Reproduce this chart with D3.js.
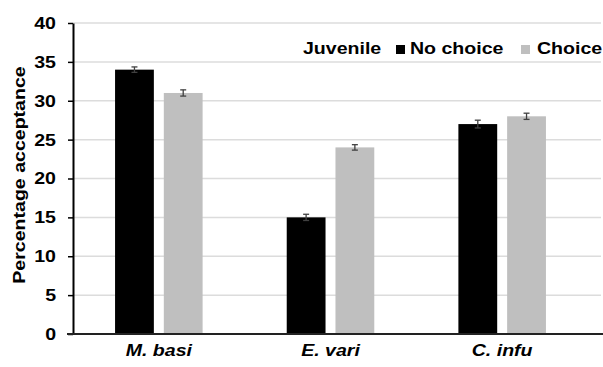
<!DOCTYPE html>
<html>
<head>
<meta charset="utf-8">
<script src="https://cdn.jsdelivr.net/npm/d3@7"></script>
<style>
  html, body { margin: 0; padding: 0; background: #fff; }
  svg text { font-family: "Liberation Sans", Arial, sans-serif; font-weight: bold; fill: #000; }
</style>
</head>
<body>
<svg id="chart" width="603" height="367"></svg>
<script>
// Species groups and the two treatments
const species = ["M. basi", "E. vari", "C. infu"];
const treatments = ["No choice", "Choice"];
const noChoice = [34, 15, 27];
const choice = [31, 24, 28];
const noChoiceErr = [0.35, 0.4, 0.5];
const choiceErr = [0.4, 0.35, 0.4];
const yTicks = [0, 5, 10, 15, 20, 25, 30, 35, 40];
const legendTitle = "Juvenile";
const yTitle = "Percentage acceptance";

const colors = { "No choice": "#000000", "Choice": "#bfbfbf" };
const FONT = 17;
const WIDE = 1.15; // the label face is set wide

const svg = d3.select("#chart");
const margin = { left: 73, right: 15, top: 23, bottom: 33 };
const W = 603, H = 367;

const y = d3.scaleLinear().domain([0, 40]).range([H - margin.bottom, margin.top]);
const x0 = d3.scaleBand().domain(species).range([margin.left, W - margin.right]).padding(0);
const bw = x0.bandwidth();
const x1 = d3.scaleBand().domain(treatments).range([bw * 0.245, bw * 0.755]).paddingInner(0.204);

function widen(sel) {
  sel.each(function () {
    const len = this.getComputedTextLength();
    d3.select(this).attr("textLength", len * WIDE).attr("lengthAdjust", "spacingAndGlyphs");
  });
}

// gridlines
svg.append("g")
  .selectAll("line")
  .data(yTicks.filter(d => d > 0))
  .join("line")
  .attr("x1", margin.left).attr("x2", 601)
  .attr("y1", d => y(d)).attr("y2", d => y(d))
  .attr("stroke", "#dcdcdc").attr("stroke-width", 1.5);

// rows of data per species
const rows = species.map((s, i) => ({
  species: s,
  values: [
    { key: "No choice", v: noChoice[i], e: noChoiceErr[i] },
    { key: "Choice", v: choice[i], e: choiceErr[i] }
  ]
}));

const groups = svg.append("g").selectAll("g")
  .data(rows).join("g")
  .attr("transform", d => `translate(${x0(d.species)},0)`);

groups.selectAll("rect")
  .data(d => d.values).join("rect")
  .attr("x", d => x1(d.key))
  .attr("width", x1.bandwidth())
  .attr("y", d => y(d.v))
  .attr("height", d => y(0) - y(d.v))
  .attr("fill", d => colors[d.key]);

// error bars
const eb = groups.selectAll("g.err")
  .data(d => d.values).join("g").attr("class", "err")
  .attr("stroke", "#404040").attr("stroke-width", 1.3);
eb.append("line")
  .attr("x1", d => x1(d.key) + x1.bandwidth() / 2)
  .attr("x2", d => x1(d.key) + x1.bandwidth() / 2)
  .attr("y1", d => y(d.v + d.e)).attr("y2", d => y(d.v - d.e));
eb.append("line")
  .attr("x1", d => x1(d.key) + x1.bandwidth() / 2 - 3)
  .attr("x2", d => x1(d.key) + x1.bandwidth() / 2 + 3)
  .attr("y1", d => y(d.v + d.e)).attr("y2", d => y(d.v + d.e));
eb.append("line")
  .attr("x1", d => x1(d.key) + x1.bandwidth() / 2 - 3)
  .attr("x2", d => x1(d.key) + x1.bandwidth() / 2 + 3)
  .attr("y1", d => y(d.v - d.e)).attr("y2", d => y(d.v - d.e));

// y axis
const yAxis = svg.append("g")
  .attr("transform", `translate(${margin.left},0)`)
  .call(d3.axisLeft(y).tickValues(yTicks).tickSize(5).tickPadding(12).tickSizeOuter(0));
yAxis.select(".domain").attr("stroke", "#000").attr("stroke-width", 2);
yAxis.selectAll(".tick line").attr("stroke", "#000").attr("stroke-width", 1.5);
yAxis.selectAll(".tick text")
  .attr("font-size", FONT)
  .attr("font-family", null)
  .call(widen);

// x axis baseline
svg.append("line")
  .attr("x1", margin.left - 6).attr("x2", W)
  .attr("y1", y(0)).attr("y2", y(0))
  .attr("stroke", "#222").attr("stroke-width", 2);

// category labels
svg.append("g").selectAll("text")
  .data(species).join("text")
  .attr("x", d => x0(d) + bw / 2)
  .attr("y", 356)
  .attr("text-anchor", "middle")
  .attr("font-size", FONT)
  .attr("font-style", "italic")
  .text(d => d)
  .call(widen);

// y title
svg.append("text")
  .attr("transform", "translate(25,175) rotate(-90)")
  .attr("text-anchor", "middle")
  .attr("font-size", FONT)
  .text(yTitle)
  .call(widen);

// legend
const lg = svg.append("g");
lg.append("text").attr("x", 303).attr("y", 53.5).attr("font-size", FONT).text(legendTitle).call(widen);
const legendPos = [{ key: "No choice", sx: 396, tx: 410 }, { key: "Choice", sx: 521, tx: 537 }];
legendPos.forEach(p => {
  lg.append("rect").attr("x", p.sx).attr("y", 45).attr("width", 9).attr("height", 9).attr("fill", colors[p.key]);
  lg.append("text").attr("x", p.tx).attr("y", 53.5).attr("font-size", FONT).text(p.key).call(widen);
});
</script>
</body>
</html>
